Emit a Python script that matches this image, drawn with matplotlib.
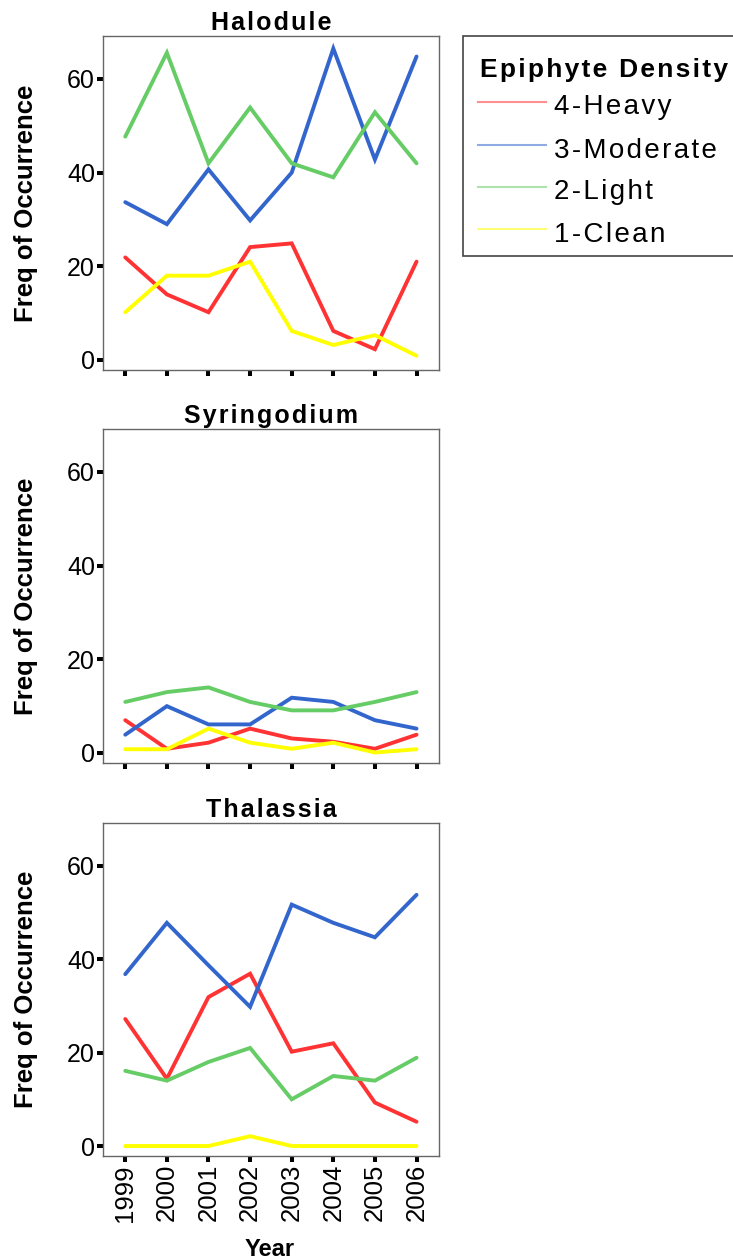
import matplotlib
matplotlib.use("Agg")
import matplotlib.pyplot as plt
from matplotlib.lines import Line2D
from matplotlib.patches import Rectangle

plt.rcParams['font.family'] = ['Liberation Sans', 'DejaVu Sans']

years = [1999, 2000, 2001, 2002, 2003, 2004, 2005, 2006]
density_classes = ["4-Heavy", "3-Moderate", "2-Light", "1-Clean"]
class_colors = ["#ff3333", "#3366cc", "#66cc66", "#ffff00"]

halodule_heavy = [21.9, 14.0, 10.2, 24.1, 24.9, 6.2, 2.3, 21.0]
halodule_moderate = [33.7, 29.0, 40.7, 29.8, 40.0, 66.5, 42.8, 64.8]
halodule_light = [47.7, 65.6, 42.0, 53.9, 42.0, 39.0, 52.9, 42.0]
halodule_clean = [10.2, 18.0, 18.0, 21.0, 6.2, 3.2, 5.3, 0.9]

syringodium_heavy = [7.0, 0.9, 2.2, 5.2, 3.1, 2.4, 0.9, 3.9]
syringodium_moderate = [3.9, 10.0, 6.1, 6.1, 11.8, 10.9, 7.0, 5.2]
syringodium_light = [10.9, 13.0, 14.0, 10.9, 9.1, 9.1, 10.9, 13.0]
syringodium_clean = [0.8, 0.8, 5.2, 2.2, 0.9, 2.2, 0.1, 0.8]

thalassia_heavy = [27.2, 14.4, 31.9, 36.9, 20.2, 22.0, 9.3, 5.2]
thalassia_moderate = [36.8, 47.8, 38.7, 29.8, 51.7, 47.8, 44.7, 53.8]
thalassia_light = [16.1, 14.0, 18.0, 21.0, 10.0, 15.0, 14.0, 18.9]
thalassia_clean = [0.0, 0.0, 0.0, 2.1, 0.0, 0.0, 0.0, 0.0]

species = ["Halodule", "Syringodium", "Thalassia"]
series = [
    [halodule_heavy, halodule_moderate, halodule_light, halodule_clean],
    [syringodium_heavy, syringodium_moderate, syringodium_light, syringodium_clean],
    [thalassia_heavy, thalassia_moderate, thalassia_light, thalassia_clean],
]
y_ticks = [0, 20, 40, 60]

HAIR = "\u200a"


def spaced(text, gap=HAIR):
    """Loose letter spacing by slipping a narrow space between glyphs."""
    return gap.join(text)


W, H = 733, 1259
fig = plt.figure(figsize=(W / 100, H / 100), dpi=100)


def fx(px):
    return px / W


def fy(py):
    return 1 - py / H


# panel boxes in pixel coordinates: (left, top, right, bottom)
boxes = [(103, 36, 439, 370), (103, 429, 439, 763), (103, 823, 439, 1156)]

for k, (name, data, box) in enumerate(zip(species, series, boxes)):
    l, t, r, b = box
    ax = fig.add_axes([fx(l), fy(b), (r - l) / W, (b - t) / H])
    for vals, col in zip(data, class_colors):
        ax.plot(years, vals, color=col, lw=2.8, solid_capstyle='round',
                solid_joinstyle='miter')
    ax.set_xlim(1998.465, 2006.54)
    ax.set_ylim(-2.14, 69.18)
    ax.set_yticks(y_ticks)
    ax.set_xticks(years)
    ax.tick_params(axis='both', direction='out', length=4.3, width=2.9,
                   color='black', labelsize=18, pad=1.5)
    if k < 2:
        ax.set_xticklabels([])
    else:
        ax.set_xticklabels([str(y) for y in years], rotation=90,
                           fontsize=18.5)
    for s in ax.spines.values():
        s.set_color('#666666')
        s.set_linewidth(1.0)
    ax.set_title(spaced(name), fontsize=18, fontweight='bold', pad=4.3)
    fig.text(fx(26), fy((t + b) / 2), "Freq of Occurrence", rotation=90,
             ha='center', va='center', fontsize=18.5, fontweight='bold')

fig.text(fx(270), fy(1256), "Year", ha='center', va='baseline',
         fontsize=17, fontweight='bold')

# legend box, drawn at figure level; it runs past the right edge
fig.add_artist(Rectangle((fx(463), fy(256)), fx(733 + 20) - fx(463),
                         fy(36) - fy(256), transform=fig.transFigure,
                         facecolor='white', edgecolor='#444444', lw=1.2))
fig.text(fx(480), fy(76.5), spaced("Epiphyte Density"),
         ha='left', va='baseline', fontsize=19, fontweight='bold')
row_y = [101.7, 145.0, 186.5, 229.0]
for label, col, yy in zip(density_classes, class_colors, row_y):
    fig.add_artist(Line2D([fx(478), fx(546)], [fy(yy), fy(yy)],
                          transform=fig.transFigure, color=col, lw=1.5,
                          alpha=0.55))
    fig.text(fx(554), fy(yy + 12.5), spaced(label), ha='left',
             va='baseline', fontsize=20)

fig.savefig("out.png", dpi=100)
